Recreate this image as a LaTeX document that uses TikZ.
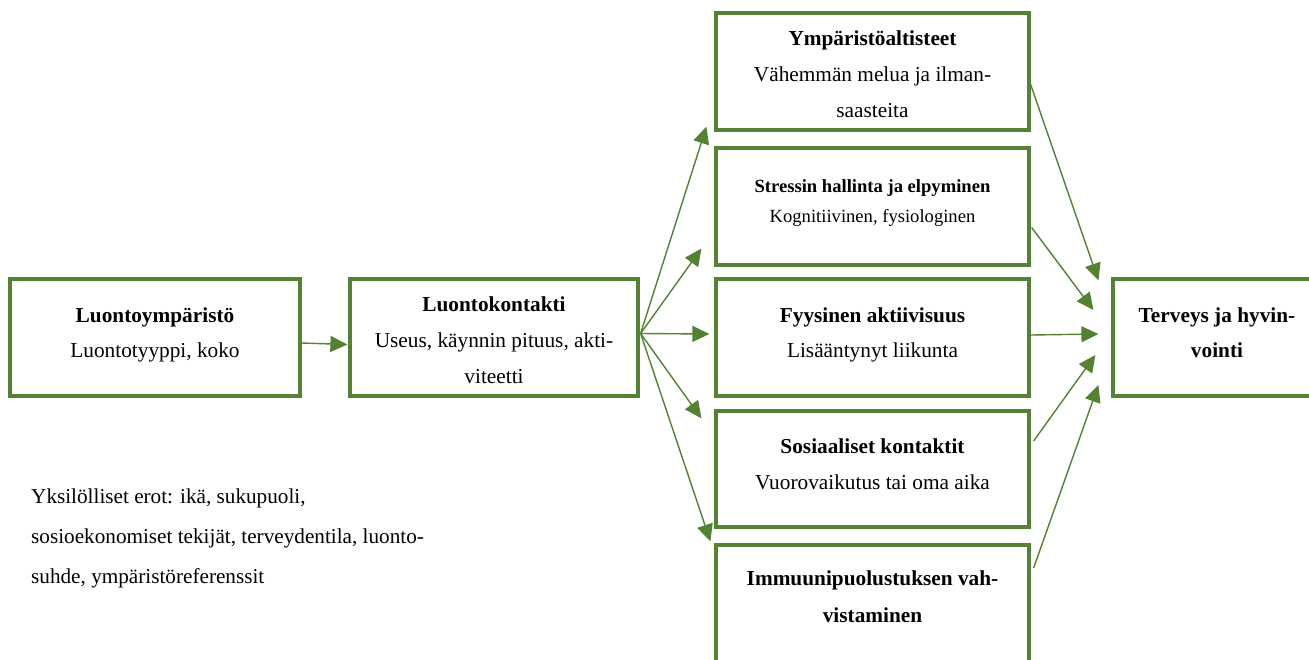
\documentclass[tikz,border=0pt]{standalone}
\usepackage{fontspec}
\setmainfont{Liberation Serif}
\usetikzlibrary{arrows.meta}
\definecolor{grn}{HTML}{548235}
\newcommand{\st}{\rule{0pt}{16pt}}
\begin{document}
\begin{tikzpicture}[x=1pt,y=-1pt,
  box/.style={draw=grn, line width=3.2pt, fill=white, minimum width=#1, minimum height=117pt, inner sep=0pt},
  box/.default=313pt,
  txt/.style={inner sep=0pt, align=center, anchor=north, font=\fontsize{21.3}{36}\selectfont},
  conn/.style={draw=grn, line width=1.4pt, -{Triangle[length=17pt,width=16pt]}}
]
\clip (0,0) rectangle (1309,659);
\fill[white] (0,0) rectangle (1309,659);

% boxes
\node[box=290pt] (b1) at (155,337.5) {};
\node[box=288pt] (b2) at (494,337.5) {};
\node[box] (r1) at (872.5,71.5) {};
\node[box] (r2) at (872.5,206.5) {};
\node[box] (r3) at (872.5,337.5) {};
\node[box, minimum height=116pt] (r4) at (872.5,469) {};
\node[box] (r5) at (872.5,603.5) {};
\node[box=208pt] (T) at (1217,337.5) {};

% texts
\node[txt, font=\fontsize{21.3}{35}\selectfont] (b1t) at (155,306) {\st\textbf{Luontoympäristö}\\Luontotyyppi, koko};
\node[txt] (b2t) at (494,295) {\st\textbf{Luontokontakti}\\Useus, käynnin pituus, akti-\\viteetti};
\node[txt] (r1t) at (872.5,29) {\st\textbf{Ympäristöaltisteet}\\Vähemmän melua ja ilman-\\saasteita};
\node[txt, font=\fontsize{18.6}{30}\selectfont] (r2t) at (872.5,176) {\st\textbf{Stressin hallinta ja elpyminen}\\Kognitiivinen, fysiologinen};
\node[txt, font=\fontsize{21.3}{35}\selectfont] (r3t) at (872.5,306) {\st\textbf{Fyysinen aktiivisuus}\\Lisääntynyt liikunta};
\node[txt] (r4t) at (872.5,437) {\st\textbf{Sosiaaliset kontaktit}\\Vuorovaikutus tai oma aika};
\node[txt, font=\fontsize{21.3}{37}\selectfont] (r5t) at (872.5,569) {\st\textbf{Immuunipuolustuksen vah-}\\\textbf{vistaminen}};
\node[txt, font=\fontsize{21.3}{35}\selectfont] (Tt) at (1217,306) {\st\textbf{Terveys ja hyvin-}\\\textbf{vointi}};
\node[txt, anchor=north west, align=left, font=\fontsize{21.2}{40}\selectfont] (note) at (31,487) {\st Yksilölliset erot: ikä, sukupuoli,\\sosioekonomiset tekijät, terveydentila, luonto-\\suhde, ympäristöreferenssit};

% connectors
\draw[conn] ([yshift=-5.5pt]b1.east) -- ([xshift=-1pt,yshift=-7pt]b2.west);
\coordinate (fan) at ([xshift=1pt,yshift=4pt]b2.east);
\draw[conn] (fan) -- ([xshift=-8pt,yshift=5pt]r1.south west);
\draw[conn] (fan) -- ([xshift=-13pt,yshift=18pt]r2.south west);
\draw[conn] (fan) -- ([xshift=-5pt,yshift=3.5pt]r3.west);
\draw[conn] (fan) -- ([xshift=-13pt,yshift=-9pt]r4.north west);
\draw[conn] (fan) -- ([xshift=-4pt,yshift=2pt]r5.north west);

\draw[conn] ([xshift=-1pt,yshift=-10pt]r1.east) -- ([xshift=-13pt,yshift=-3pt]T.north west);
\draw[conn] ([xshift=1pt,yshift=-21pt]r2.east) -- ([xshift=-18pt,yshift=27.5pt]T.west);
\draw[conn] ([yshift=2.5pt]r3.east) -- ([xshift=-13pt,yshift=3.5pt]T.west);
\draw[conn] ([xshift=3pt,yshift=28pt]r4.east) -- ([xshift=-16pt,yshift=-17.5pt]T.west);
\draw[conn] ([xshift=3pt,yshift=35.5pt]r5.east) -- ([xshift=-13pt,yshift=-47.5pt]T.west);
\end{tikzpicture}
\end{document}
